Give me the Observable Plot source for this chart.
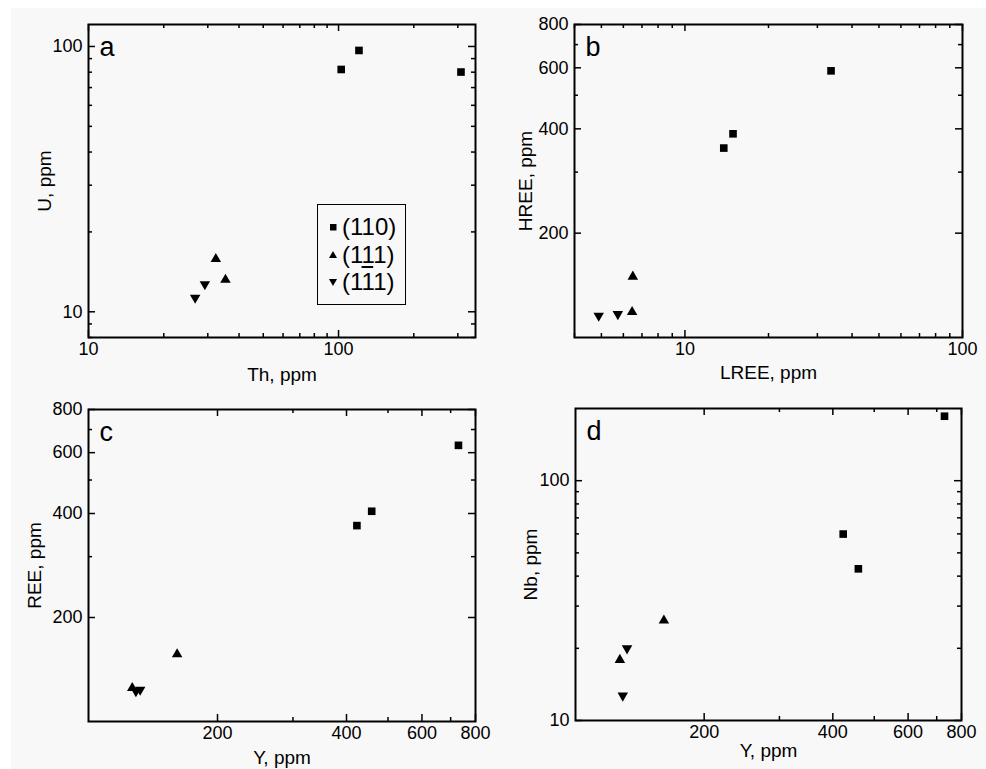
<!DOCTYPE html>
<html>
<head>
<meta charset="utf-8">
<script src="https://cdn.jsdelivr.net/npm/d3@7"></script>
<script src="https://cdn.jsdelivr.net/npm/@observablehq/plot@0.6"></script>
<style>
  html, body { margin: 0; padding: 0; background: #ffffff; }
  #page { position: relative; width: 986px; height: 769px; overflow: hidden; font-family: "Liberation Sans", Arial, sans-serif; }
  #bg { position: absolute; left: 11px; top: 8px; width: 975px; height: 761px; background: #f8f8f8; }
  .panel { position: absolute; }
  .panel svg { display: block; }
  #legend { position: absolute; left: 317px; top: 204px; width: 87px; height: 99px; border: 1.5px solid #000; font-family: "Liberation Sans", Arial, sans-serif; font-size: 24px; color: #000; }
  #legend .row { position: absolute; left: 0; height: 26px; line-height: 26px; white-space: nowrap; }
  #legend svg { position: absolute; left: 9px; top: 7px; }
  #legend span.t { position: absolute; left: 24px; top: 0; }
  .ov { text-decoration: overline; }
</style>
</head>
<body>
<div id="page"><div id="bg"></div></div>
<script>
// ---------- data ----------
const groups = ["(110)", "(111)", "(1-11)"];

// panel a: Th vs U
const a_Th_110 = [102.5, 120.7, 308.8];
const a_U_110  = [81.9, 96.6, 80.1];
const a_Th_111 = [32.3, 35.3];
const a_U_111  = [15.8, 13.2];
const a_Th_1m11 = [26.7, 29.2];
const a_U_1m11  = [11.3, 12.7];

// panel b: LREE vs HREE
const b_LREE_110 = [13.8, 14.9, 33.6];
const b_HREE_110 = [352, 387, 588];
const b_LREE_111 = [6.49, 6.45];
const b_HREE_111 = [149.8, 118.4];
const b_LREE_1m11 = [4.89, 5.73];
const b_HREE_1m11 = [115.5, 116.8];

// panel c: Y vs REE
const c_Y_110 = [423, 458, 730];
const c_REE_110 = [369, 406, 630];
const c_Y_111 = [126.5, 161];
const c_REE_111 = [125, 156.6];
const c_Y_1m11 = [129, 132];
const c_REE_1m11 = [122.4, 123.6];

// panel d: Y vs Nb
const d_Y_110 = [423, 459, 730];
const d_Nb_110 = [59.9, 42.9, 185.7];
const d_Y_111 = [127, 161];
const d_Nb_111 = [17.9, 26.1];
const d_Y_1m11 = [129, 132];
const d_Nb_1m11 = [12.7, 20.0];

// ticks
const decadeMajor = [10, 100];
const aXMinor = [20, 30, 40, 50, 60, 70, 80, 90, 200, 300];
const aYMinor = [8, 9, 20, 30, 40, 50, 60, 70, 80, 90];
const bXMinor = [4, 5, 6, 7, 8, 9, 20, 30, 40, 50, 60, 70, 80, 90];
const reeMajor = [200, 400, 600, 800];
const reeMinor = [300, 500, 700];
const dYMinor = [20, 30, 40, 50, 60, 70, 80, 90];

// axis labels and panel letters
const xLabels = ["Th, ppm", "LREE, ppm", "Y, ppm", "Y, ppm"];
const yLabels = ["U, ppm", "HREE, ppm", "REE, ppm", "Nb, ppm"];
const letters = ["a", "b", "c", "d"];

// ---------- helpers ----------
const triangleDown = {
  draw(ctx, size) {
    const y = Math.sqrt(size / (Math.sqrt(3) * 3));
    ctx.moveTo(0, y * 2);
    ctx.lineTo(Math.sqrt(3) * y, -y);
    ctx.lineTo(-Math.sqrt(3) * y, -y);
    ctx.closePath();
  }
};

function rows(xs, ys, g) { return xs.map((x, i) => ({x, y: ys[i], g})); }

function panel(cfg) {
  const {width, height, margin, xDomain, yDomain, xMajor, xMinor, yMajor, yMinor,
         xLabel, yLabel, letter, data, xLabelOffset, yLabelOffset} = cfg;
  const iw = width - margin.left - margin.right;
  const ih = height - margin.top - margin.bottom;
  const MAJ = 7, MIN = 4;
  const tickStyle = {stroke: "#000", strokeWidth: 1.5};
  return Plot.plot({
    width, height,
    marginTop: margin.top, marginRight: margin.right, marginBottom: margin.bottom, marginLeft: margin.left,
    style: {background: "transparent", fontFamily: "'Liberation Sans', Arial, sans-serif", fontSize: "18px", color: "#000", overflow: "visible"},
    x: {type: "log", domain: xDomain},
    y: {type: "log", domain: yDomain},
    marks: [
      // tick labels
      Plot.axisX({ticks: xMajor, tickSize: 0, tickPadding: 5, tickFormat: d => String(d), label: null, fontSize: 18}),
      Plot.axisY({ticks: yMajor, tickSize: 0, tickPadding: 6, tickFormat: d => String(d), label: null, fontSize: 18}),
      // inward ticks (bottom, top, left, right)
      Plot.tickX(xMajor, {x: d => d, insetTop: ih - MAJ, ...tickStyle}),
      Plot.tickX(xMinor, {x: d => d, insetTop: ih - MIN, ...tickStyle}),
      Plot.tickX(xMajor, {x: d => d, insetBottom: ih - MAJ, ...tickStyle}),
      Plot.tickX(xMinor, {x: d => d, insetBottom: ih - MIN, ...tickStyle}),
      Plot.tickY(yMajor, {y: d => d, insetRight: iw - MAJ, ...tickStyle}),
      Plot.tickY(yMinor, {y: d => d, insetRight: iw - MIN, ...tickStyle}),
      Plot.tickY(yMajor, {y: d => d, insetLeft: iw - MAJ, ...tickStyle}),
      Plot.tickY(yMinor, {y: d => d, insetLeft: iw - MIN, ...tickStyle}),
      Plot.frame({stroke: "#000", strokeWidth: 2}),
      // axis titles
      Plot.text([xLabel], {text: d => d, frameAnchor: "bottom", lineAnchor: "bottom", textAnchor: "middle", dy: xLabelOffset, fontSize: 19, fill: "#000"}),
      Plot.text([yLabel], {text: d => d, frameAnchor: "left", lineAnchor: "top", textAnchor: "middle", rotate: -90, dx: -yLabelOffset, fontSize: 19, fill: "#000"}),
      // panel letter
      Plot.text([letter], {text: d => d, frameAnchor: "top-left", lineAnchor: "bottom", textAnchor: "start", dx: 11, dy: 31, fontSize: 27, fill: "#000"}),
      // data
      Plot.dot(data.filter(d => d.g === groups[0]), {x: "x", y: "y", symbol: "square", r: 4.3, fill: "#000", stroke: "none"}),
      Plot.dot(data.filter(d => d.g === groups[1]), {x: "x", y: "y", symbol: "triangle", r: 3.9, fill: "#000", stroke: "none"}),
      Plot.dot(data.filter(d => d.g === groups[2]), {x: "x", y: "y", symbol: triangleDown, r: 3.9, fill: "#000", stroke: "none"})
    ]
  });
}

const panels = [
  {left: 0, top: 0, width: 493, height: 385, margin: {top: 24, right: 18, bottom: 48, left: 88},
   xDomain: [10, 353], yDomain: [8, 121], xMajor: decadeMajor, xMinor: aXMinor, yMajor: decadeMajor, yMinor: aYMinor,
   data: [...rows(a_Th_110, a_U_110, groups[0]), ...rows(a_Th_111, a_U_111, groups[1]), ...rows(a_Th_1m11, a_U_1m11, groups[2])],
   xLabelOffset: 43, yLabelOffset: 51},
  {left: 493, top: 0, width: 493, height: 385, margin: {top: 24, right: 24, bottom: 48, left: 81},
   xDomain: [4, 100], yDomain: [100, 800], xMajor: decadeMajor, xMinor: bXMinor, yMajor: reeMajor, yMinor: reeMinor,
   data: [...rows(b_LREE_110, b_HREE_110, groups[0]), ...rows(b_LREE_111, b_HREE_111, groups[1]), ...rows(b_LREE_1m11, b_HREE_1m11, groups[2])],
   xLabelOffset: 41, yLabelOffset: 56},
  {left: 0, top: 385, width: 493, height: 384, margin: {top: 24, right: 18, bottom: 48, left: 88},
   xDomain: [100, 800], yDomain: [100, 800], xMajor: reeMajor, xMinor: reeMinor, yMajor: reeMajor, yMinor: reeMinor,
   data: [...rows(c_Y_110, c_REE_110, groups[0]), ...rows(c_Y_111, c_REE_111, groups[1]), ...rows(c_Y_1m11, c_REE_1m11, groups[2])],
   xLabelOffset: 42, yLabelOffset: 61},
  {left: 493, top: 385, width: 493, height: 384, margin: {top: 23, right: 25, bottom: 49, left: 82},
   xDomain: [100, 800], yDomain: [10, 200], xMajor: reeMajor, xMinor: reeMinor, yMajor: decadeMajor, yMinor: dYMinor,
   data: [...rows(d_Y_110, d_Nb_110, groups[0]), ...rows(d_Y_111, d_Nb_111, groups[1]), ...rows(d_Y_1m11, d_Nb_1m11, groups[2])],
   xLabelOffset: 36, yLabelOffset: 52}
];

const page = document.getElementById("page");
panels.forEach((p, i) => {
  const div = document.createElement("div");
  div.className = "panel";
  div.style.left = p.left + "px";
  div.style.top = p.top + "px";
  div.style.width = p.width + "px";
  div.style.height = p.height + "px";
  div.appendChild(panel({...p, xLabel: xLabels[i], yLabel: yLabels[i], letter: letters[i]}));
  page.appendChild(div);
});

// legend (panel a)
const legend = document.createElement("div");
legend.id = "legend";
const sq = '<svg width="12" height="12"><rect x="3" y="3" width="6.5" height="6.5" fill="#000"/></svg>';
const tu = '<svg width="12" height="12"><path d="M6,2 L10,9 L2,9 Z" fill="#000"/></svg>';
const td = '<svg width="12" height="12"><path d="M2,3 L10,3 L6,10 Z" fill="#000"/></svg>';
const legendTexts = ['(110)', '(111)', '(1<span class="ov">1</span>1)'];
const legendSyms = [sq, tu, td];
legendTexts.forEach((t, i) => {
  const r = document.createElement("div");
  r.className = "row";
  r.style.top = (9 + i * 27.5) + "px";
  r.innerHTML = legendSyms[i] + '<span class="t">' + t + '</span>';
  legend.appendChild(r);
});
page.appendChild(legend);
</script>
</body>
</html>
